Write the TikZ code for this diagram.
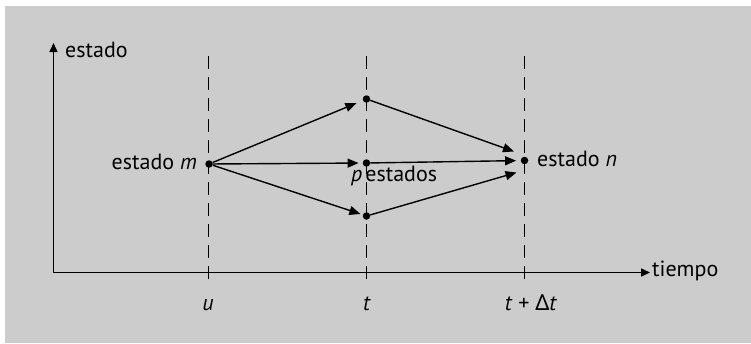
\documentclass[tikz,border=0pt]{standalone}
\usepackage{fontspec}
\setmainfont{PT Sans}
\newfontfamily\greekfont{Noto Sans}
\usetikzlibrary{arrows.meta}
\definecolor{bggray}{RGB}{204,204,204}
\tikzset{
  lbl/.style={inner sep=0pt, font=\fontsize{22}{26}\selectfont},
  dot/.style={circle, fill=black, inner sep=0pt, minimum size=7.5pt},
  axisline/.style={line width=1.5pt, -{Triangle[length=9pt,width=8pt]}},
  arr/.style={line width=1.4pt, -{Triangle[length=11pt,width=9pt]}},
  guide/.style={line width=1.4pt, dash pattern=on 13pt off 8pt},
}
\begin{document}
\begin{tikzpicture}[x=1pt,y=-1pt]
\useasboundingbox (0,0) rectangle (751,343);
\fill[white] (0,0) rectangle (751,343);
\fill[bggray] (5,6) rectangle (751,343);
% guides
\coordinate (gu1) at (208.5,56);  \coordinate (gu2) at (208.5,286);
\coordinate (gt1) at (366.5,56);  \coordinate (gt2) at (366.5,286);
\coordinate (gd1) at (524.5,56);  \coordinate (gd2) at (524.5,286);
\draw[guide] (gu1) -- (gu2);
\draw[guide] (gt1) -- (gt2);
\draw[guide] (gd1) -- (gd2);
% axes
\coordinate (O) at (53.5,272.5);
\coordinate (Y) at (53.5,43);
\coordinate (X) at (650,272.5);
\draw[axisline] (O) -- (Y);
\draw[axisline] (O) -- (X);
\node[lbl, anchor=base west] (ylab) at (65,57) {estado};
\node[lbl, anchor=base west] (xlab) at (652,276) {tiempo};
% states
\node[dot] (m) at (209,164) {};
\node[dot] (top) at (366.5,99) {};
\node[dot] (mid) at (366.5,163) {};
\node[dot] (bot) at (366.5,216) {};
\node[dot] (n) at (524.5,160.5) {};
\coordinate (nhi) at (514,151.5);
\coordinate (nlo) at (516.5,172.5);
\draw[arr, shorten >=7pt] (m) -- (top);
\draw[arr, shorten >=4pt] (m) -- (mid);
\draw[arr, shorten >=2.5pt] (m) -- (bot);
\draw[arr] (top) -- (nhi);
\draw[arr, shorten >=4.5pt] (mid) -- (n);
\draw[arr] (bot) -- (nlo);
\node[lbl, anchor=base east] (mlab) at (197,169.5) {estado \textit{m}};
\node[lbl, anchor=base west] (nlab) at (537,166.5) {estado \textit{n}};
\node[lbl, anchor=base west] (plab) at (351,181.5) {\textit{p}\hspace{3pt}estados};
% time labels
\node[lbl, anchor=base] (ulab) at (208,310) {\textit{u}};
\node[lbl, anchor=base] (tlab) at (367,310) {\textit{t}};
\node[lbl, anchor=base] (tdlab) at (531,310) {\textit{t} + {\greekfont Δ}\textit{t}};
\end{tikzpicture}
\end{document}
